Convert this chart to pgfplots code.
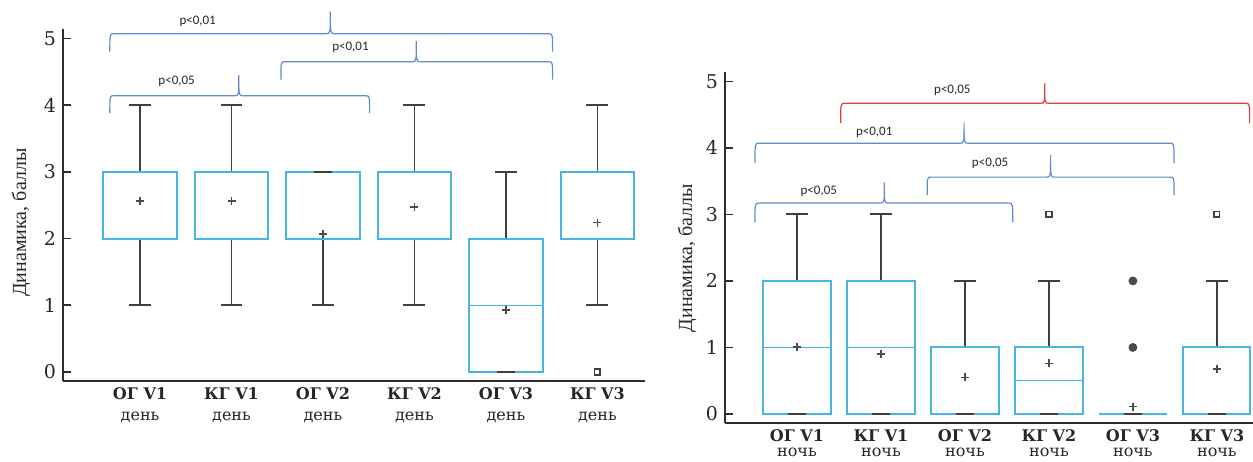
\documentclass[border=0pt]{standalone}
\usepackage{fontspec}
\setmainfont{DejaVu Serif}
\newfontfamily\labfont{Liberation Serif}
\newfontfamily\pfont{Carlito}
\usepackage{pgfplots}
\pgfplotsset{compat=1.18}
\usepgfplotslibrary{statistics}

\definecolor{boxcol}{RGB}{72,182,228}
\definecolor{whiskcol}{RGB}{64,64,64}
\definecolor{bracecol}{RGB}{100,138,204}
\definecolor{redbrace}{RGB}{226,62,62}
\definecolor{axcol}{RGB}{45,45,45}

% curly bracket over a group of boxes: [colour] x1 x2 xtip y yend ytip
\newcommand{\pbrace}[7][bracecol]{%
  \draw[#1, line width=0.6pt]
    (axis cs:#2,#6) .. controls (axis cs:#2,#5) .. ([xshift=2pt]axis cs:#2,#5)
    -- ([xshift=-2pt]axis cs:#4,#5) .. controls (axis cs:#4,#5) .. (axis cs:#4,#7)
    .. controls (axis cs:#4,#5) .. ([xshift=2pt]axis cs:#4,#5)
    -- ([xshift=-2pt]axis cs:#3,#5) .. controls (axis cs:#3,#5) .. (axis cs:#3,#6);}
\newcommand{\pval}[3]{\node[font=\pfont\fontsize{6.5}{7}\selectfont, text=black!85] at (axis cs:#1,#2) {#3};}

\pgfplotsset{
  panel/.style={
    scale only axis, axis lines=left,
    axis line style={-, draw=axcol, line width=0.8pt},
    clip=false, ymin=-0.135, ymax=5.14, ytick={0,...,5},
    tick align=inside, major tick length=4pt,
    ytick style={draw=axcol, line width=0.8pt},
    xtick={1,...,6}, xtick style={draw=none},
    /pgf/number format/assume math mode=true,
    yticklabel style={font=\fontsize{9.5}{11}\selectfont, text=black!85},
    xticklabel style={align=center, text=black!85},
    every axis y label/.style={rotate=90, anchor=center,
      font=\labfont\fontsize{10}{12}\selectfont, text=black!85},
    boxplot/draw direction=y,
    boxplot/every box/.style={draw=boxcol, line width=1pt},
    boxplot/every whisker/.style={draw=whiskcol, line width=0.9pt},
    boxplot/every median/.style={draw=boxcol, line width=0.7pt},
  },
  mean/.style={only marks, mark=+, mark size=2pt,
    mark options={draw=black!70, line width=0.8pt}},
  cap/.style={only marks, mark=-, mark size=4.5pt,
    mark options={draw=whiskcol, line width=0.9pt}},
  outsq/.style={only marks, mark=square, mark size=1.4pt,
    mark options={draw=black!75, line width=0.8pt}},
  outdot/.style={only marks, mark=*, mark size=2pt,
    mark options={draw=black!70, fill=black!70}},
}

\begin{document}
\begin{tikzpicture}
\useasboundingbox (0pt,0pt) rectangle (626.5pt,230.5pt);

% day
\begin{axis}[panel, at={(31.5pt,40pt)}, anchor=south west,
  width=291pt, height=176pt, xmin=0.158, xmax=6.52,
  ylabel={Динамика, баллы},
  ylabel style={at={(axis description cs:-0.072,0.45)}},
  xticklabel style={font=\fontsize{8}{10.5}\selectfont},
  xticklabels={{\bfseries ОГ V1\\день},{\bfseries КГ V1\\день},{\bfseries ОГ V2\\день},{\bfseries КГ V2\\день},{\bfseries ОГ V3\\день},{\bfseries КГ V3\\день}}]
\addplot[boxplot prepared={lower whisker=1, lower quartile=2, median=3, upper quartile=3, upper whisker=4, draw position=1, box extend=0.8, whisker extend=0.24}] coordinates {};
\addplot[boxplot prepared={lower whisker=1, lower quartile=2, median=3, upper quartile=3, upper whisker=4, draw position=2, box extend=0.8, whisker extend=0.24}] coordinates {};
\addplot[boxplot prepared={lower whisker=1, lower quartile=2, median=2, upper quartile=3, upper whisker=3, draw position=3, box extend=0.8, whisker extend=0.24}] coordinates {};
\addplot[boxplot prepared={lower whisker=1, lower quartile=2, median=3, upper quartile=3, upper whisker=4, draw position=4, box extend=0.8, whisker extend=0.24}] coordinates {};
\addplot[boxplot prepared={lower whisker=0, lower quartile=0, median=1, upper quartile=2, upper whisker=3, draw position=5, box extend=0.8, whisker extend=0.24}] coordinates {};
\addplot[boxplot prepared={lower whisker=1, lower quartile=2, median=2, upper quartile=3, upper whisker=4, draw position=6, box extend=0.8, whisker extend=0.24}] coordinates {};
% whisker caps lying on a box edge
\addplot[cap] coordinates {(3,3) (5,0)};
\addplot[mean] coordinates {(1,2.56) (2,2.56) (3,2.07) (4,2.47) (5,0.93) (6,2.24)};
\addplot[outsq] coordinates {(6,0)};
\pbrace{0.67}{5.51}{3.08}{5.07}{4.80}{5.40}
\pval{1.63}{5.25}{p<0,01}
\pbrace{2.54}{5.51}{4.02}{4.65}{4.38}{4.96}
\pval{3.30}{4.86}{p<0,01}
\pbrace{0.67}{3.51}{2.08}{4.14}{3.88}{4.45}
\pval{1.40}{4.35}{p<0,05}
\end{axis}

% night
\begin{axis}[panel, at={(362.5pt,19pt)}, anchor=south west,
  width=264pt, height=175.5pt, xmin=0.143, xmax=6.43,
  ylabel={Динамика, баллы},
  ylabel style={at={(axis description cs:-0.072,0.47)}},
  xticklabel style={font=\fontsize{8}{7.5}\selectfont},
  xticklabels={{\bfseries ОГ V1\\ночь},{\bfseries КГ V1\\ночь},{\bfseries ОГ V2\\ночь},{\bfseries КГ V2\\ночь},{\bfseries ОГ V3\\ночь},{\bfseries КГ V3\\ночь}}]
\addplot[boxplot prepared={lower whisker=0, lower quartile=0, median=1, upper quartile=2, upper whisker=3, draw position=1, box extend=0.8, whisker extend=0.26}] coordinates {};
\addplot[boxplot prepared={lower whisker=0, lower quartile=0, median=1, upper quartile=2, upper whisker=3, draw position=2, box extend=0.8, whisker extend=0.26}] coordinates {};
\addplot[boxplot prepared={lower whisker=0, lower quartile=0, median=0, upper quartile=1, upper whisker=2, draw position=3, box extend=0.8, whisker extend=0.26}] coordinates {};
\addplot[boxplot prepared={lower whisker=0, lower quartile=0, median=0.5, upper quartile=1, upper whisker=2, draw position=4, box extend=0.8, whisker extend=0.26}] coordinates {};
\addplot[boxplot prepared={lower whisker=0, lower quartile=0, median=0, upper quartile=0, upper whisker=0, draw position=5, box extend=0.8, whisker extend=0.26}] coordinates {};
\addplot[boxplot prepared={lower whisker=0, lower quartile=0, median=0, upper quartile=1, upper whisker=2, draw position=6, box extend=0.8, whisker extend=0.26}] coordinates {};
\addplot[cap] coordinates {(1,0) (2,0) (3,0) (4,0) (5,0) (6,0)};
\addplot[mean] coordinates {(1,1.01) (2,0.90) (3,0.55) (4,0.76) (5,0.11) (6,0.68)};
\addplot[outsq] coordinates {(4,3) (6,3)};
\addplot[outdot] coordinates {(5,1) (5,2)};
\pbrace[redbrace]{1.52}{6.39}{3.95}{4.67}{4.37}{4.97}
\pval{2.85}{4.86}{p<0,05}
\pbrace{0.50}{5.49}{2.99}{4.07}{3.77}{4.38}
\pval{1.92}{4.23}{p<0,01}
\pbrace{2.55}{5.49}{4.02}{3.56}{3.29}{3.89}
\pval{3.30}{3.77}{p<0,05}
\pbrace{0.50}{3.57}{2.04}{3.17}{2.88}{3.48}
\pval{1.26}{3.35}{p<0,05}
\end{axis}
\end{tikzpicture}
\end{document}
